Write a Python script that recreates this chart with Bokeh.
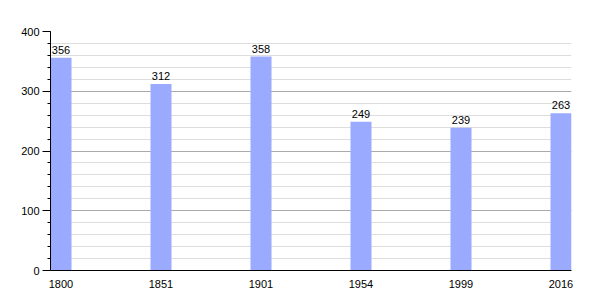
from bokeh.plotting import figure
from bokeh.models import ColumnDataSource, Range1d, FixedTicker, LabelSet
from bokeh.core.properties import value
from bokeh.embed import file_html
from bokeh.resources import INLINE

years = ["1800", "1851", "1901", "1954", "1999", "2016"]
population = [356, 312, 358, 249, 239, 263]

xs = list(range(len(years)))
src = ColumnDataSource(dict(x=xs, top=population, label=[str(v) for v in population]))

p = figure(width=600, height=300, output_backend="svg", toolbar_location=None,
           x_range=Range1d(-0.105, len(years) - 1 + 0.105), y_range=Range1d(0, 400),
           min_border_left=50, min_border_right=29, min_border_top=31, min_border_bottom=30)
p.outline_line_color = None
p.background_fill_color = "white"

p.vbar(x="x", top="top", width=0.21, source=src, fill_color="#99aaff", line_color=None)

labels = LabelSet(x="x", y="top", text="label", source=src, text_align="center",
                  text_baseline="bottom", y_offset=4, text_font=value("Liberation Sans"),
                  text_font_size=value("11px"), text_color="black")
p.add_layout(labels)

# y axis
p.yaxis.ticker = FixedTicker(ticks=[0, 100, 200, 300, 400],
                             minor_ticks=list(range(0, 401, 20)))
p.yaxis.major_tick_out = 8
p.yaxis.major_tick_in = 0
p.yaxis.minor_tick_out = 3
p.yaxis.minor_tick_in = 0
p.yaxis.axis_line_color = "black"
p.yaxis.major_tick_line_color = "black"
p.yaxis.minor_tick_line_color = "black"
p.yaxis.major_label_text_font = "Liberation Sans"
p.yaxis.major_label_text_font_size = "11px"
p.yaxis.major_label_text_color = "black"
p.yaxis.major_label_standoff = 3

# x axis
p.xaxis.ticker = FixedTicker(ticks=xs)
p.xaxis.major_label_overrides = {i: y for i, y in enumerate(years)}
p.xaxis.major_tick_line_color = None
p.xaxis.minor_tick_line_color = None
p.xaxis.axis_line_color = "black"
p.xaxis.major_label_text_font = "Liberation Sans"
p.xaxis.major_label_text_font_size = "11px"
p.xaxis.major_label_text_color = "black"
p.xaxis.major_label_standoff = 3

p.xgrid.visible = False
p.ygrid.grid_line_color = "#aaaaaa"
p.ygrid.minor_grid_line_color = "#dddddd"
p.ygrid.level = "underlay"

open("out.html", "w").write(file_html(p, INLINE))
